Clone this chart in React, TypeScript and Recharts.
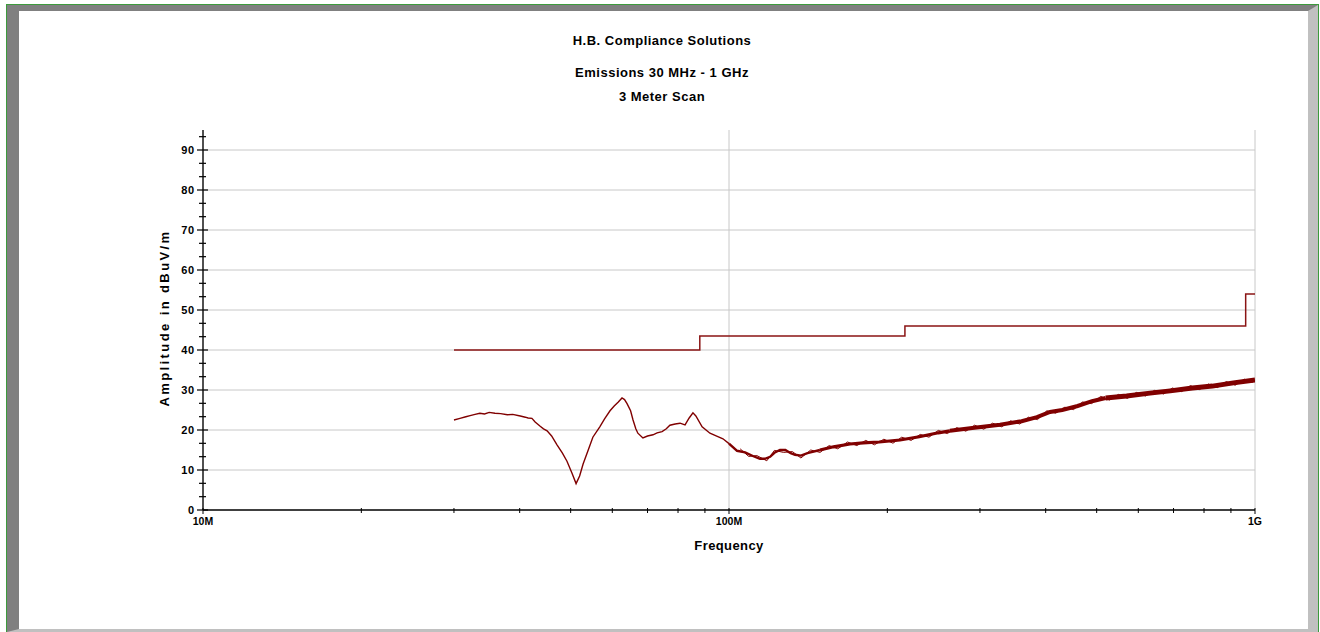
import React from 'react';
import { ComposedChart, Line, XAxis, YAxis, ReferenceLine } from 'recharts';

// ---- Data (frequency in MHz, amplitude in dBuV/m) ----
const limitFreq = [30, 88, 88, 216, 216, 960, 960, 1000];
const limitVals = [40, 40, 43.5, 43.5, 46, 46, 54, 54];

const lowFreq = [
  30.0, 30.8, 31.6, 32.2, 32.9, 33.6, 34.3, 35.0, 35.9, 36.8, 37.9, 38.8, 40.1, 41.0, 41.5, 42.2,
  42.8, 43.7, 44.4, 45.1, 46.0, 47.1, 48.2, 49.2, 50.3, 51.2, 52.0, 52.8, 54.0, 55.1, 56.8, 58.0,
  59.4, 60.5, 61.6, 62.6, 63.3, 64.0, 65.0, 65.7, 66.5, 67.1, 68.6, 70.0, 71.7, 73.0, 74.6, 76.0,
  77.2, 79.0, 80.7, 82.5, 84.0, 85.4, 86.5, 88.9, 92.0, 95.0, 97.4, 100.0,
];
const lowVals = [
  22.5, 22.9, 23.3, 23.6, 23.9, 24.2, 24.0, 24.4, 24.2, 24.1, 23.8, 23.9, 23.5, 23.2, 23.0, 22.9,
  22.0, 21.0, 20.3, 19.8, 18.5, 16.3, 14.3, 12.2, 9.2, 6.6, 8.5, 11.5, 15.0, 18.2, 20.8, 22.8,
  24.8, 26.0, 27.0, 28.0, 27.6, 26.6, 24.8, 22.5, 20.3, 19.2, 18.0, 18.5, 18.8, 19.3, 19.6, 20.3,
  21.2, 21.5, 21.7, 21.3, 23.0, 24.3, 23.5, 20.8, 19.2, 18.4, 17.8, 16.6,
];

const midAFreq = [100, 103.6, 107.3, 111, 114.5, 117, 119.7, 122, 125, 128, 131, 133.5, 137, 141, 148.9];
const midAVals = [16.6, 14.8, 14.4, 13.5, 12.8, 12.8, 13.3, 14.3, 15.0, 15.0, 14.2, 13.8, 13.6, 14.2, 15.0];

const midBFreq = [148.9, 158, 169.8, 180, 193, 211.4, 230, 250, 263];
const midBVals = [15.0, 15.8, 16.5, 16.8, 17.0, 17.5, 18.3, 19.3, 19.8];

const highAFreq = [263, 290, 327.5, 360, 385, 407.7, 430, 460, 490, 520];
const highAVals = [19.8, 20.5, 21.3, 22.2, 23.2, 24.5, 25.0, 26.0, 27.2, 28.0];

const highBFreq = [520, 570, 631.6, 690, 760, 830, 910, 1000];
const highBVals = [28.0, 28.5, 29.2, 29.8, 30.5, 31.0, 31.8, 32.5];

// readings of the noisy band's ragged edge
const noiseFreq = [
  105, 109, 113, 118, 122, 127, 132, 137, 143, 149, 155, 161, 168, 175, 182, 189, 197, 205, 213, 222,
  231, 240, 250, 260, 271, 282, 293, 305, 317, 330, 343, 357, 371, 386, 402, 418, 435, 452, 470, 489,
  509, 529, 550, 572, 595, 619, 644, 670, 697, 725, 754, 784, 815, 848, 882, 917, 954, 990,
];
const noiseVals = [
  15.3, 13.4, 13.6, 12.3, 14.9, 14.4, 14.6, 13.0, 15.0, 14.4, 16.1, 15.3, 17.0, 16.1, 17.4, 16.3, 17.7, 16.7, 18.2, 17.4,
  18.9, 18.2, 19.9, 19.1, 20.6, 19.7, 21.2, 20.2, 21.7, 20.8, 22.3, 21.5, 23.2, 22.6, 24.8, 24.2, 25.7, 25.1, 27.0, 26.6,
  28.4, 27.5, 28.9, 27.9, 29.4, 28.5, 29.9, 29.0, 30.5, 29.6, 31.1, 30.1, 31.5, 30.6, 32.1, 31.2, 32.7, 31.9,
];

const xTicks = [10, 20, 30, 40, 50, 60, 70, 80, 90, 100, 200, 300, 400, 500, 600, 700, 800, 900, 1000];
const xMajor = [10, 100, 1000];
const xMajorLabels = ['10M', '100M', '1G'];

const yTicks = [
  0, 3.33, 6.67, 10, 13.33, 16.67, 20, 23.33, 26.67, 30, 33.33, 36.67, 40, 43.33, 46.67, 50,
  53.33, 56.67, 60, 63.33, 66.67, 70, 73.33, 76.67, 80, 83.33, 86.67, 90, 93.33,
];
const yMajor = [0, 10, 20, 30, 40, 50, 60, 70, 80, 90];
const yGrid = [10, 20, 30, 40, 50, 60, 70, 80, 90];
const xGrid = [100, 1000];

const titleLines = ['H.B. Compliance Solutions', 'Emissions 30 MHz - 1 GHz', '3 Meter Scan'];
const xTitle = 'Frequency';
const yTitle = 'Amplitude in dBuV/m';

const zip = (f: number[], v: number[]) => f.map((x, i) => ({ f: x, v: v[i] }));
const limitData = zip(limitFreq, limitVals);
const lowData = zip(lowFreq, lowVals);
const midAData = zip(midAFreq, midAVals);
const midBData = zip(midBFreq, midBVals);
const highAData = zip(highAFreq, highAVals);
const highBData = zip(highBFreq, highBVals);
const noiseData = zip(noiseFreq, noiseVals);

const FONT = '"Liberation Sans", Arial, sans-serif';
const TRACE = '#800000';
const PLOT_LEFT = 203;
const PLOT_BOTTOM = 510;

const renderXTick = (props: any) => {
  const { x, payload } = props;
  const y = PLOT_BOTTOM;
  const idx = xMajor.indexOf(payload.value);
  const major = idx >= 0;
  return (
    <g key={'xt' + payload.value}>
      <line x1={x} x2={x} y1={y - 2} y2={y + (major ? 4 : 3)} stroke="#000" strokeWidth={1} />
      {major && (
        <text x={x} y={y + 15} textAnchor="middle" fontFamily={FONT} fontWeight="bold" fontSize={10.5} fill="#000">
          {xMajorLabels[idx]}
        </text>
      )}
    </g>
  );
};

const renderYTick = (props: any) => {
  const { y, payload } = props;
  const x = PLOT_LEFT;
  const major = yMajor.indexOf(payload.value) >= 0;
  return (
    <g key={'yt' + payload.value}>
      <line x1={major ? x - 6 : x - 4} x2={major ? x + 5 : x + 3} y1={y} y2={y} stroke="#000" strokeWidth={1.2} />
      {major && (
        <text x={x - 8} y={y + 4} textAnchor="end" fontFamily={FONT} fontWeight="bold" fontSize={11} letterSpacing={0.8} fill="#000">
          {payload.value}
        </text>
      )}
    </g>
  );
};

export default function App() {
  return (
    <div style={{ position: 'fixed', left: 0, top: 0, width: 1320, height: 632, overflow: 'hidden', background: '#fff' }}>
      {/* frame */}
      <div
        style={{
          position: 'absolute', left: 6, top: 4, width: 1313, height: 700, boxSizing: 'border-box',
          border: '1px solid #3c9a3c',
        }}
      >
        <div
          style={{
            position: 'absolute', left: 0, top: 0, width: 1311, height: 627, boxSizing: 'border-box',
            borderLeft: '12px solid #808080', borderTop: '6px solid #808080',
            borderRight: '10px solid #c0c0c0', borderBottom: '3px solid #c0c0c0', background: '#fff',
          }}
        />
      </div>
      {/* titles */}
      {titleLines.map((t, i) => (
        <div
          key={t}
          style={{
            position: 'absolute', left: 0, width: 1324, top: [32, 64, 88][i], textAlign: 'center',
            fontFamily: FONT, fontWeight: 'bold', fontSize: 13, letterSpacing: 0.5, lineHeight: '18px', color: '#000',
          }}
        >
          {t}
        </div>
      ))}
      <div
        style={{
          position: 'absolute', left: 629, width: 200, top: 537, textAlign: 'center',
          fontFamily: FONT, fontWeight: 'bold', fontSize: 13, letterSpacing: 0.4, lineHeight: '18px', color: '#000',
        }}
      >
        {xTitle}
      </div>
      <div
        style={{
          position: 'absolute', left: 165 - 150, top: 318 - 9, width: 300, textAlign: 'center',
          transform: 'rotate(-90deg)', transformOrigin: '150px 9px',
          fontFamily: FONT, fontWeight: 'bold', fontSize: 13, letterSpacing: 2.4, lineHeight: '18px', color: '#000',
        }}
      >
        {yTitle}
      </div>
      <div style={{ position: 'absolute', left: 0, top: 0 }}>
        <ComposedChart width={1320} height={632} margin={{ top: 130, left: 143, right: 65, bottom: 92 }}>
          <XAxis
            dataKey="f" type="number" scale="log" domain={[10, 1000]} allowDataOverflow
            ticks={xTicks} interval={0} height={30} tickSize={0} tickMargin={0}
            tick={renderXTick} axisLine={false} tickLine={false}
          />
          <YAxis
            type="number" domain={[0, 95]} allowDataOverflow ticks={yTicks} interval={0}
            width={60} tickSize={0} tickMargin={0} tick={renderYTick} axisLine={false} tickLine={false}
          />
          {yGrid.map((v) => (
            <ReferenceLine key={'y' + v} y={v} stroke="#c8c8c8" strokeWidth={1} ifOverflow="visible" />
          ))}
          {xGrid.map((v) => (
            <ReferenceLine key={'x' + v} x={v} stroke="#c8c8c8" strokeWidth={1} ifOverflow="visible" />
          ))}
          <ReferenceLine x={10} stroke="#505050" strokeWidth={2} ifOverflow="visible" />
          <ReferenceLine y={0} stroke="#000" strokeWidth={1.5} ifOverflow="visible" />
          <Line data={limitData} dataKey="v" stroke="#8a1414" strokeWidth={1.5} dot={false} isAnimationActive={false} />
          <Line data={lowData} dataKey="v" stroke={TRACE} strokeWidth={1.4} dot={false} isAnimationActive={false} />
          <Line data={midAData} dataKey="v" stroke={TRACE} strokeWidth={2.4} dot={false} isAnimationActive={false} />
          <Line data={midBData} dataKey="v" stroke={TRACE} strokeWidth={3.2} dot={false} isAnimationActive={false} />
          <Line data={highAData} dataKey="v" stroke={TRACE} strokeWidth={4} dot={false} isAnimationActive={false} />
          <Line data={highBData} dataKey="v" stroke={TRACE} strokeWidth={4.8} dot={false} isAnimationActive={false} />
          <Line data={noiseData} dataKey="v" stroke={TRACE} strokeWidth={1} dot={false} isAnimationActive={false} />
        </ComposedChart>
      </div>
    </div>
  );
}
